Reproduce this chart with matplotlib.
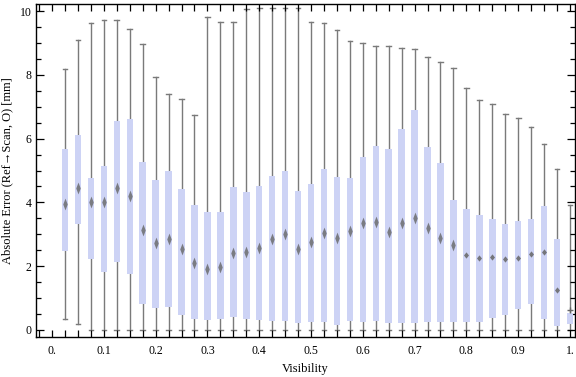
import matplotlib
matplotlib.use("Agg")
import matplotlib.pyplot as plt
from matplotlib.ticker import MultipleLocator, FixedLocator
from matplotlib.path import Path

# ---- data ----
visibility = [0.025, 0.05, 0.075, 0.1, 0.125, 0.15, 0.175, 0.2, 0.225, 0.25,
              0.275, 0.3, 0.325, 0.35, 0.375, 0.4, 0.425, 0.45, 0.475, 0.5,
              0.525, 0.55, 0.575, 0.6, 0.625, 0.65, 0.675, 0.7, 0.725, 0.75,
              0.775, 0.8, 0.825, 0.85, 0.875, 0.9, 0.925, 0.95, 0.975, 1.0]
whisker_low = [0.33, 0.19, 0, 0, 0, 0, 0, 0, 0, 0,
               0, 0, 0, 0, 0, 0, 0, 0, 0, 0,
               0, 0, 0, 0, 0, 0, 0, 0, 0, 0,
               0, 0, 0, 0, 0, 0, 0, 0, 0, 0]
q1 = [2.49, 3.32, 2.24, 1.83, 2.13, 1.77, 0.82, 0.69, 0.72, 0.47,
      0.34, 0.31, 0.34, 0.41, 0.34, 0.31, 0.29, 0.28, 0.22, 0.25,
      0.25, 0.17, 0.28, 0.25, 0.28, 0.21, 0.23, 0.23, 0.26, 0.24,
      0.26, 0.26, 0.26, 0.39, 0.48, 0.67, 0.83, 0.34, 0.14, 0.20]
median = [3.94, 4.46, 4.00, 4.02, 4.46, 4.20, 3.13, 2.72, 2.85, 2.53,
          2.09, 1.90, 1.99, 2.40, 2.46, 2.56, 2.84, 3.00, 2.53, 2.77,
          3.03, 2.89, 3.10, 3.34, 3.40, 3.06, 3.34, 3.50, 3.19, 2.87,
          2.66, 2.35, 2.25, 2.30, 2.23, 2.26, 2.38, 2.46, 1.25, 0.63]
q3 = [5.66, 6.11, 4.76, 5.14, 6.54, 6.61, 5.26, 4.70, 4.99, 4.41,
      3.92, 3.71, 3.71, 4.48, 4.33, 4.52, 4.84, 4.98, 4.36, 4.58,
      5.05, 4.80, 4.76, 5.42, 5.78, 5.67, 6.30, 6.91, 5.74, 5.24,
      4.08, 3.79, 3.60, 3.48, 3.32, 3.43, 3.48, 3.89, 2.85, 0.53]
whisker_high = [8.17, 9.08, 9.61, 9.73, 9.71, 9.45, 8.96, 7.92, 7.41, 7.23,
                6.73, 9.80, 9.67, 9.67, 10.05, 10.08, 10.08, 10.08, 10.08, 9.67,
                9.64, 9.40, 9.05, 9.00, 8.89, 8.90, 8.83, 8.80, 8.55, 8.39,
                8.20, 7.58, 7.21, 7.07, 6.76, 6.64, 6.35, 5.82, 5.06, 3.91]
x_tick_values = [0.0, 0.1, 0.2, 0.3, 0.4, 0.5, 0.6, 0.7, 0.8, 0.9, 1.0]
x_tick_labels = ["0.", "0.1", "0.2", "0.3", "0.4", "0.5", "0.6", "0.7", "0.8", "0.9", "1."]
y_tick_values = [0, 2, 4, 6, 8, 10]
y_tick_labels = ["0", "2", "4", "6", "8", "10"]

# ---- style ----
serif = ["Liberation Serif", "DejaVu Serif"]
plt.rcParams["font.family"] = serif
box_color = "#cdd3f5"
whisk_color = "#7a7a7a"
med_color = "#666666"

fig = plt.figure(figsize=(5.76, 3.77), dpi=100)
ax = fig.add_axes([36 / 576, 40 / 377, 539 / 576, 333 / 377])

stats = []
for lo, a, m, b, hi in zip(whisker_low, q1, median, q3, whisker_high):
    stats.append(dict(whislo=lo, q1=a, med=m, q3=b, whishi=hi, fliers=[]))

ax.bxp(stats, positions=visibility, widths=0.0125, patch_artist=True,
       showfliers=False, manage_ticks=False,
       boxprops=dict(facecolor=box_color, edgecolor="none", linewidth=0),
       whiskerprops=dict(color=whisk_color, linewidth=1.0),
       capprops=dict(color=whisk_color, linewidth=1.0),
       medianprops=dict(linewidth=0, color="none"),
       capwidths=0.009, zorder=2)

for ln in ax.lines:
    ln.set_zorder(1)

# slim vertical diamond for the median markers
slim = Path([(0, 1), (0.38, 0), (0, -1), (-0.38, 0), (0, 1)],
            [Path.MOVETO, Path.LINETO, Path.LINETO, Path.LINETO, Path.CLOSEPOLY])
blob = Path([(0, 1), (0.8, 0), (0, -1), (-0.8, 0), (0, 1)],
            [Path.MOVETO, Path.LINETO, Path.LINETO, Path.LINETO, Path.CLOSEPOLY])

for i, (xv, mv) in enumerate(zip(visibility, median)):
    if i < 31:
        ax.plot(xv, mv, marker=slim, markersize=8.5, color=med_color,
                markeredgewidth=0, alpha=0.8, zorder=3)
    elif i < 39:
        ax.plot(xv, mv, marker=blob, markersize=4.5, color=med_color,
                markeredgewidth=0, alpha=0.85, zorder=3)
    else:
        ax.plot(xv, mv, marker="+", markersize=4, color=med_color,
                markeredgewidth=1, zorder=3)

ax.set_xlim(-0.031, 1.0097)
ax.set_ylim(-0.22, 10.22)

ax.xaxis.set_major_locator(FixedLocator(x_tick_values))
ax.set_xticklabels(x_tick_labels)
ax.xaxis.set_minor_locator(MultipleLocator(0.025))
ax.yaxis.set_major_locator(FixedLocator(y_tick_values))
ax.set_yticklabels(y_tick_labels)
ax.yaxis.set_minor_locator(MultipleLocator(0.5))

ax.tick_params(axis="both", which="both", direction="in", top=True, right=True,
               labelsize=8.5, colors="black", width=0.9)
ax.tick_params(axis="x", which="major", length=5, pad=6)
ax.tick_params(axis="x", which="minor", length=5)
ax.tick_params(axis="y", which="major", length=6, pad=3)
ax.tick_params(axis="y", which="minor", length=3.5)
for s in ax.spines.values():
    s.set_linewidth(1.0)
    s.set_color("black")

ax.set_xlabel("Visibility", fontsize=9, labelpad=4, family=serif)
ax.set_ylabel("Absolute Error (Ref\u2192Scan, O) [mm]", fontsize=9, labelpad=5,
              family=serif)

fig.savefig("out.png", dpi=100)
